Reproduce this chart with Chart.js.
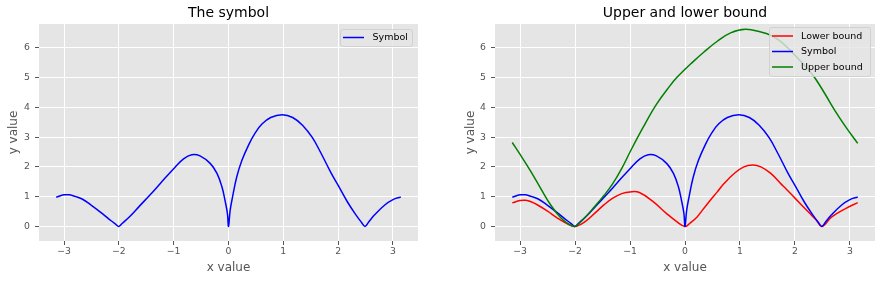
<!DOCTYPE html>
<html><head><meta charset="utf-8">
<script src="https://cdn.jsdelivr.net/npm/chart.js@4/dist/chart.umd.min.js"></script>
<style>
html,body{margin:0;padding:0;background:#fff;width:881px;height:282px;overflow:hidden}
canvas{position:absolute;top:0}
#c1{left:0}
#c2{left:440px}
</style></head><body>
<canvas id="c1" width="440" height="282"></canvas>
<canvas id="c2" width="441" height="282"></canvas>
<script>
// ---- data ----
const xTicks = [-3, -2, -1, 0, 1, 2, 3];
const yTicks = [0, 1, 2, 3, 4, 5, 6];

const symbolX = [-3.1416,-3.0,-2.9,-2.8,-2.67,-2.5,-2.3,-2.14,-2.06,-2.0,-1.94,-1.8,-1.62,-1.42,-1.24,-1.0,-0.82,-0.67,-0.52,-0.33,-0.21,-0.12,-0.06,-0.02,0,0.03,0.074,0.15,0.245,0.37,0.49,0.61,0.77,0.98,1.17,1.35,1.53,1.69,1.87,2.0,2.17,2.33,2.42,2.49,2.56,2.66,2.85,3.0,3.1416];
const symbolY = [0.98,1.06,1.06,1.01,0.92,0.71,0.43,0.19,0.08,0,0.1,0.33,0.69,1.08,1.45,1.94,2.27,2.41,2.37,2.11,1.78,1.33,0.84,0.44,0,0.54,0.99,1.66,2.22,2.75,3.15,3.44,3.66,3.75,3.66,3.40,2.98,2.45,1.8,1.38,0.82,0.37,0.15,0,0.16,0.38,0.72,0.9,0.99];

const upperX = [-3.1416,-3.0,-2.8,-2.62,-2.44,-2.26,-2.11,-2.0,-1.84,-1.65,-1.47,-1.32,-1.15,-1.0,-0.77,-0.52,-0.275,-0.15,0,0.097,0.34,0.587,0.83,1.1,1.38,1.56,1.75,2.0,2.24,2.37,2.55,2.73,2.92,3.1416];
const upperY = [2.82,2.42,1.83,1.26,0.71,0.29,0.07,0,0.26,0.65,1.05,1.42,1.95,2.5,3.3,4.1,4.72,5.0,5.28,5.45,5.85,6.22,6.5,6.62,6.53,6.42,6.2,5.75,5.28,4.97,4.44,3.88,3.35,2.79];

const lowerX = [-3.1416,-3.0,-2.9,-2.8,-2.68,-2.5,-2.32,-2.14,-2.0,-1.81,-1.62,-1.47,-1.32,-1.15,-1.0,-0.83,-0.58,-0.34,-0.15,0,0.097,0.22,0.34,0.46,0.587,0.71,0.89,1.07,1.23,1.38,1.56,1.75,1.84,2.0,2.24,2.39,2.49,2.67,2.92,3.1416];
const lowerY = [0.79,0.87,0.88,0.83,0.72,0.51,0.28,0.09,0,0.17,0.48,0.73,0.94,1.1,1.16,1.14,0.83,0.44,0.16,0,0.12,0.32,0.6,0.88,1.16,1.44,1.77,2.0,2.06,2.0,1.78,1.42,1.26,0.95,0.49,0.21,0,0.32,0.6,0.8];

const xRange = [-3.456, 3.456];
const yRange = [-0.49, 6.8];

// ---- helpers ----
const pts = (xs, ys) => xs.map((x, i) => ({x, y: ys[i]}));
Chart.defaults.font.family = '"DejaVu Sans", sans-serif';
Chart.defaults.animation = false;

const plotBg = {
  id: 'plotBg',
  beforeDraw(chart) {
    const {ctx, chartArea: a} = chart;
    ctx.save();
    ctx.fillStyle = '#E5E5E5';
    ctx.fillRect(a.left, a.top, a.right - a.left, a.bottom - a.top);
    ctx.restore();
  }
};

const boxLegend = {
  id: 'boxLegend',
  afterDraw(chart, args, o) {
    const ctx = chart.ctx;
    ctx.save();
    ctx.beginPath();
    ctx.roundRect(o.x + 0.5, o.y + 0.5, o.w, o.h, 2.5);
    ctx.fillStyle = 'rgba(229,229,229,0.8)';
    ctx.fill();
    ctx.strokeStyle = 'rgba(204,204,204,0.8)';
    ctx.lineWidth = 1;
    ctx.stroke();
    ctx.font = '9.5px "DejaVu Sans"';
    ctx.textBaseline = 'middle';
    chart.data.datasets.forEach((d, i) => {
      const yy = o.firstRowY + i * o.row;
      ctx.strokeStyle = d.borderColor;
      ctx.lineWidth = 1.5;
      ctx.beginPath();
      ctx.moveTo(o.lineX0, yy);
      ctx.lineTo(o.lineX1, yy);
      ctx.stroke();
      ctx.fillStyle = '#000';
      ctx.fillText(d.label, o.textX, yy + 0.5);
    });
    ctx.restore();
  }
};

function makeOptions(title, padLeft, yWidth, padRight, legendOpts) {
  return {
    responsive: false,
    devicePixelRatio: 1,
    animation: false,
    layout: {padding: {left: padLeft, right: padRight, top: 0, bottom: 0}},
    elements: {point: {radius: 0}, line: {borderWidth: 1.5, tension: 0.4}},
    plugins: {
      legend: {display: false},
      tooltip: {enabled: false},
      title: {display: true, text: title, color: '#000', fullSize: false,
              font: {size: 14, weight: 'normal'}, padding: {top: 4.6, bottom: 2.6}},
      boxLegend: legendOpts
    },
    scales: {
      x: {
        type: 'linear', min: xRange[0], max: xRange[1],
        afterBuildTicks: s => { s.ticks = xTicks.map(v => ({value: v})); },
        afterFit: s => { s.height = 41; },
        ticks: {color: '#555', font: {size: 9.3}, padding: 1.5,
                callback: v => String(v).replace('-', '\u2212'), maxRotation: 0},
        grid: {color: '#fff', lineWidth: 1, tickColor: '#555', tickLength: 4, tickWidth: 1},
        border: {display: false},
        title: {display: true, text: 'x value', color: '#555', font: {size: 12}, padding: {top: 0, bottom: 6.8}}
      },
      y: {
        type: 'linear', min: yRange[0], max: yRange[1],
        afterBuildTicks: s => { s.ticks = yTicks.map(v => ({value: v})); },
        afterFit: s => { s.width = yWidth; },
        ticks: {color: '#555', font: {size: 9.3}, padding: 5},
        grid: {color: '#fff', lineWidth: 1, tickColor: '#555', tickLength: 4, tickWidth: 1},
        border: {display: false},
        title: {display: true, text: 'y value', color: '#555', font: {size: 12}, padding: {top: 6.3, bottom: 0}}
      }
    }
  };
}

new Chart(document.getElementById('c1'), {
  type: 'line',
  data: {datasets: [
    {label: 'Symbol', data: pts(symbolX, symbolY), borderColor: '#0000ff', backgroundColor: '#0000ff', fill: false}
  ]},
  options: makeOptions('The symbol', 0, 39, 22,
    {x: 340, y: 29, w: 72, h: 17, row: 15.5, firstRowY: 37.5, lineX0: 343, lineX1: 364, textX: 372.5}),
  plugins: [plotBg, boxLegend]
});

new Chart(document.getElementById('c2'), {
  type: 'line',
  data: {datasets: [
    {label: 'Lower bound', data: pts(lowerX, lowerY), borderColor: '#ff0000', backgroundColor: '#ff0000', fill: false, order: 2},
    {label: 'Symbol', data: pts(symbolX, symbolY), borderColor: '#0000ff', backgroundColor: '#0000ff', fill: false, order: 1},
    {label: 'Upper bound', data: pts(upperX, upperY), borderColor: '#008000', backgroundColor: '#008000', fill: false, order: 0}
  ]},
  options: makeOptions('Upper and lower bound', 17, 38, 6,
    {x: 329, y: 27, w: 101, h: 49, row: 15.5, firstRowY: 36, lineX0: 332, lineX1: 353, textX: 361}),
  plugins: [plotBg, boxLegend]
});
</script>
</body></html>
